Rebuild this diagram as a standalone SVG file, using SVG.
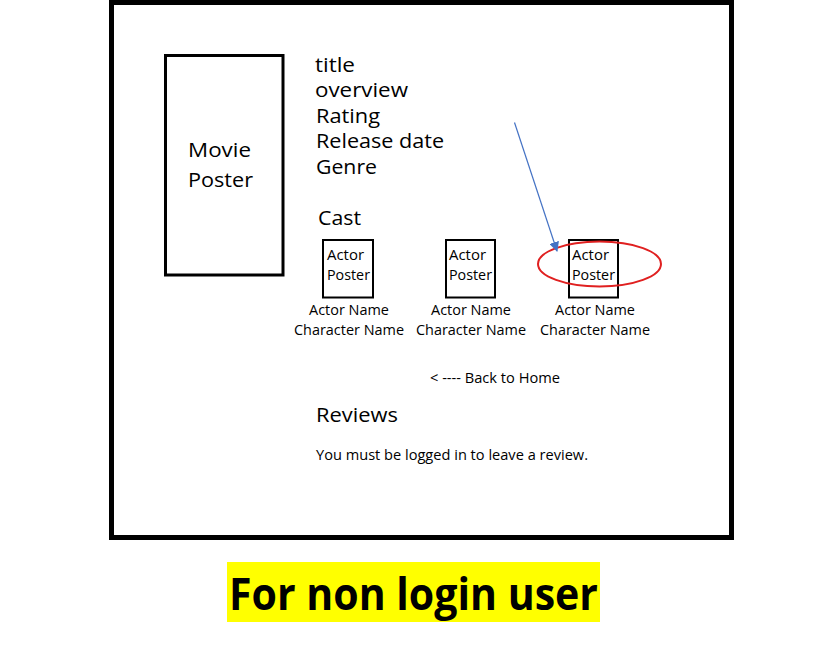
<svg xmlns="http://www.w3.org/2000/svg" width="828" height="653" viewBox="0 0 828 653">
<defs>
<style>
text{font-family:"Open Sans","Noto Sans","Liberation Sans",sans-serif;fill:#000}
.big{font-size:20px}
.sm{font-size:14px}
.box{fill:none;stroke:#000}
</style>
<marker id="ah" viewBox="0 0 10 10" refX="9" refY="5" markerWidth="10" markerHeight="10" markerUnits="userSpaceOnUse" orient="auto">
<path d="M0,0 L10,5 L0,10 z" fill="#4472C4"/>
</marker>
</defs>
<rect width="828" height="653" fill="#fff"/>
<g id="frame"><rect x="111.5" y="2.5" width="620" height="535" class="box" stroke-width="5"/></g>
<g id="movie-poster">
<rect x="165.5" y="55.5" width="117.5" height="219.5" class="box" stroke-width="3"/>
<text x="188" y="157" class="big" textLength="63" lengthAdjust="spacingAndGlyphs">Movie</text>
<text x="188" y="187" class="big" textLength="65" lengthAdjust="spacingAndGlyphs">Poster</text>
</g>
<g id="details">
<text x="315" y="72" class="big" textLength="40" lengthAdjust="spacingAndGlyphs">title</text>
<text x="315" y="97" class="big" textLength="93" lengthAdjust="spacingAndGlyphs">overview</text>
<text x="316" y="123" class="big" textLength="64" lengthAdjust="spacingAndGlyphs">Rating</text>
<text x="316" y="148" class="big" textLength="128" lengthAdjust="spacingAndGlyphs">Release date</text>
<text x="316" y="174" class="big" textLength="61" lengthAdjust="spacingAndGlyphs">Genre</text>
<text x="318" y="225" class="big" textLength="43" lengthAdjust="spacingAndGlyphs">Cast</text>
</g>
<g id="actor1">
<rect x="323" y="240" width="50" height="57.5" class="box" stroke-width="2"/>
<text x="327" y="260" class="sm" textLength="37" lengthAdjust="spacingAndGlyphs">Actor</text>
<text x="327" y="280" class="sm" textLength="43" lengthAdjust="spacingAndGlyphs">Poster</text>
<text x="349" y="315" class="sm" text-anchor="middle" textLength="80" lengthAdjust="spacingAndGlyphs">Actor Name</text>
<text x="349" y="335" class="sm" text-anchor="middle" textLength="110" lengthAdjust="spacingAndGlyphs">Character Name</text>
</g>
<g id="actor2">
<rect x="446" y="240" width="49" height="57.5" class="box" stroke-width="2"/>
<text x="449" y="260" class="sm" textLength="37" lengthAdjust="spacingAndGlyphs">Actor</text>
<text x="449" y="280" class="sm" textLength="43" lengthAdjust="spacingAndGlyphs">Poster</text>
<text x="471" y="315" class="sm" text-anchor="middle" textLength="80" lengthAdjust="spacingAndGlyphs">Actor Name</text>
<text x="471" y="335" class="sm" text-anchor="middle" textLength="110" lengthAdjust="spacingAndGlyphs">Character Name</text>
</g>
<g id="actor3">
<rect x="569" y="240" width="49" height="57.5" class="box" stroke-width="2"/>
<text x="572" y="260" class="sm" textLength="37" lengthAdjust="spacingAndGlyphs">Actor</text>
<text x="572" y="280" class="sm" textLength="43" lengthAdjust="spacingAndGlyphs">Poster</text>
<text x="595" y="315" class="sm" text-anchor="middle" textLength="80" lengthAdjust="spacingAndGlyphs">Actor Name</text>
<text x="595" y="335" class="sm" text-anchor="middle" textLength="110" lengthAdjust="spacingAndGlyphs">Character Name</text>
</g>
<g id="highlight"><ellipse cx="599.5" cy="264" rx="61.5" ry="22.5" fill="none" stroke="#E02020" stroke-width="2"/></g>
<g id="connectors">
<line x1="514.5" y1="122.5" x2="557" y2="251" stroke="#4472C4" stroke-width="1.2" marker-end="url(#ah)"/>
</g>
<g id="back-home"><text x="430" y="383" class="sm" textLength="130" lengthAdjust="spacingAndGlyphs">&lt; ---- Back to Home</text></g>
<g id="reviews">
<text x="316" y="422" class="big" textLength="82" lengthAdjust="spacingAndGlyphs">Reviews</text>
<text x="316" y="460" class="sm" textLength="272" lengthAdjust="spacingAndGlyphs">You must be logged in to leave a review.</text>
</g>
<g id="caption">
<rect x="227" y="562" width="373" height="60" fill="#FFFF00"/>
<text x="229" y="610" font-size="45" font-weight="bold" textLength="369" lengthAdjust="spacingAndGlyphs">For non login user</text>
</g>
</svg>
